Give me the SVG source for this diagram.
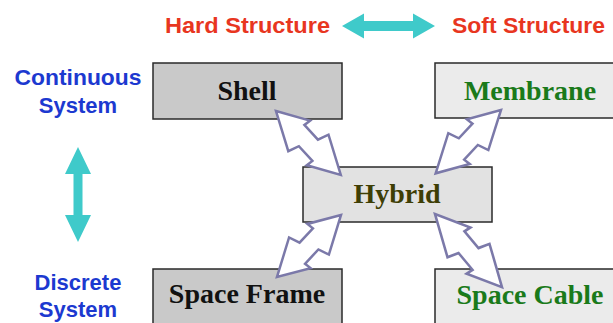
<svg xmlns="http://www.w3.org/2000/svg" width="613" height="323" viewBox="0 0 613 323">
<style>
.box{stroke:#2a2a2a;stroke-width:1.5}
.dark{fill:#c9c9c9}
.light{fill:#ebebeb}
.hyb{fill:#e2e2e2}
.lbl{font-family:"Liberation Serif","Times New Roman",serif;font-weight:bold;font-size:28px;text-anchor:middle}
.side{font-family:"Liberation Sans",Arial,sans-serif;font-weight:bold;font-size:22px;text-anchor:middle;fill:#1c39d0}
.title{font-family:"Liberation Sans",Arial,sans-serif;font-weight:bold;font-size:22px;fill:#e8361f}
.cyan{fill:#3fcaca}
.bolt{fill:#ffffff;stroke:#7b79a9;stroke-width:2.5;stroke-linejoin:miter}
</style>
<defs>
<path id="bolt" d="M0,0 L31,-17 L30,-10 L50,-9 L54,-20 L91,0 L60,17 L61,10 L41,9 L37,20 Z"/>
</defs>
<g id="headers">
<text class="title" x="165" y="33" textLength="165" lengthAdjust="spacingAndGlyphs">Hard Structure</text>
<text class="title" x="452" y="33" textLength="153" lengthAdjust="spacingAndGlyphs">Soft Structure</text>
<polygon class="cyan" points="342,26 364,13.5 364,21 413,21 413,13.5 435,26 413,38.5 413,31 364,31 364,38.5"/>
<text class="side" x="78" y="85" textLength="127" lengthAdjust="spacingAndGlyphs">Continuous</text>
<text class="side" x="78" y="113">System</text>
<polygon class="cyan" points="78,147 91,174 82.5,174 82.5,215 91,215 78,242 65,215 73.5,215 73.5,174 65,174"/>
<text class="side" x="78" y="290">Discrete</text>
<text class="side" x="78" y="317">System</text>
</g>
<g id="shell">
<rect class="box dark" x="153" y="63" width="189" height="56"/>
<text class="lbl" x="247" y="100" fill="#111">Shell</text>
</g>
<g id="membrane">
<rect class="box light" x="435" y="63" width="190" height="55"/>
<text class="lbl" x="530" y="100" fill="#1a7a1a">Membrane</text>
</g>
<g id="hybrid">
<rect class="box hyb" x="303" y="167" width="189" height="55"/>
<text class="lbl" x="397" y="203" fill="#3e3e05">Hybrid</text>
</g>
<g id="spaceframe">
<rect class="box dark" x="153" y="269" width="189" height="60"/>
<text class="lbl" x="247" y="303" fill="#111">Space Frame</text>
</g>
<g id="spacecable">
<rect class="box light" x="435" y="269" width="190" height="60"/>
<text class="lbl" x="530" y="304" fill="#1a7a1a">Space Cable</text>
</g>
<g id="connectors">
<use href="#bolt" class="bolt" transform="translate(276,111) rotate(44.6)"/>
<use href="#bolt" class="bolt" transform="translate(501,110) rotate(135.9) scale(1,-1)"/>
<use href="#bolt" class="bolt" transform="translate(341,215) rotate(135.9) scale(0.98,-1)"/>
<use href="#bolt" class="bolt" transform="translate(435,214) rotate(47.5) scale(1.09,1)"/>
</g>
</svg>
